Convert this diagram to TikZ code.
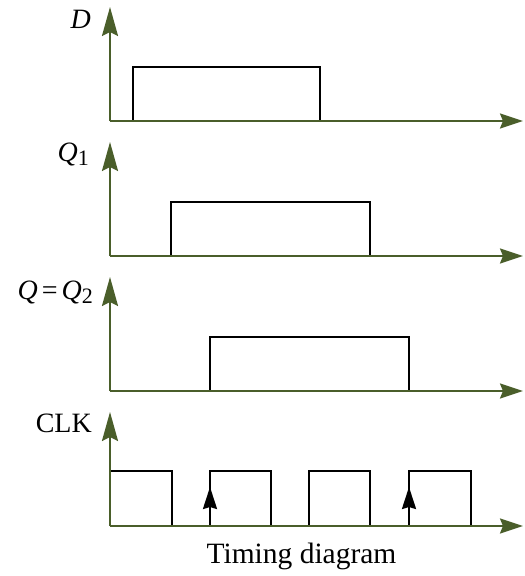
\documentclass[tikz,border=0pt]{standalone}
\usepackage{fontspec}
\setmainfont{Liberation Serif}
\usetikzlibrary{arrows.meta}
\definecolor{axisgreen}{RGB}{74,94,42}
\begin{document}
\begin{tikzpicture}[x=1pt,y=-1pt,
  axis/.style={draw=axisgreen,line width=2.2pt},
  harrow/.style={-{Stealth[length=23pt,width=15pt,inset=3pt]}},
  varrow/.style={-{Stealth[length=29pt,width=16pt,inset=4pt]}},
  signal/.style={draw=black,line width=2.2pt,line join=miter},
  edgearrow/.style={-{Stealth[length=22pt,width=14pt,inset=2pt]},draw=black,line width=2.2pt},
  lbl/.style={anchor=base east,inner sep=0pt,font=\fontsize{28}{30}\selectfont},
]
\useasboundingbox (0,0) rectangle (525,576);
\newcommand{\subtxt}[1]{\raisebox{-4pt}{\fontsize{22}{22}\selectfont #1}}
% ---------- D ----------
\coordinate (oD) at (110,121);
\coordinate (xD) at (523,121);
\coordinate (yD) at (110,7);
\draw[signal] (133,121) -- (133,67) -- (320,67) -- (320,121);
\draw[axis,harrow] (oD) -- (xD);
\draw[axis,varrow] (oD) -- (yD);
\node[lbl] (lD) at (91,28) {\textit{D}};
% ---------- Q1 ----------
\coordinate (oQ1) at (110,256);
\coordinate (xQ1) at (523,256);
\coordinate (yQ1) at (110,142);
\draw[signal] (171,256) -- (171,202) -- (370,202) -- (370,256);
\draw[axis,harrow] (oQ1) -- (xQ1);
\draw[axis,varrow] (oQ1) -- (yQ1);
\node[lbl] (lQ1) at (89,161) {\textit{Q}\subtxt{1}};
% ---------- Q = Q2 ----------
\coordinate (oQ2) at (110,391);
\coordinate (xQ2) at (523,391);
\coordinate (yQ2) at (110,277);
\draw[signal] (210,391) -- (210,337) -- (409,337) -- (409,391);
\draw[axis,harrow] (oQ2) -- (xQ2);
\draw[axis,varrow] (oQ2) -- (yQ2);
\node[lbl] (lQ2) at (93,299) {\textit{Q}\hspace{4pt}=\hspace{4pt}\textit{Q}\subtxt{2}};
% ---------- CLK ----------
\coordinate (oC) at (110,526);
\coordinate (xC) at (523,526);
\coordinate (yC) at (110,412);
\draw[signal] (110,471) -- (172,471) -- (172,526);
\draw[signal] (210,526) -- (210,471) -- (271,471) -- (271,526);
\draw[signal] (309,526) -- (309,471) -- (370,471) -- (370,526);
\draw[signal] (409,526) -- (409,471) -- (471,471) -- (471,526);
\coordinate (e1s) at (210,526);
\coordinate (e1t) at (210,487);
\coordinate (e2s) at (409,526);
\coordinate (e2t) at (409,487);
\draw[edgearrow] (e1s) -- (e1t);
\draw[edgearrow] (e2s) -- (e2t);
\draw[axis,harrow] (oC) -- (xC);
\draw[axis,varrow] (oC) -- (yC);
\node[lbl] (lC) at (92,432) {CLK};
% ---------- caption ----------
\node[anchor=base,inner sep=0pt,font=\fontsize{29.5}{32}\selectfont] (cap) at (301.5,563) {Timing diagram};
\end{tikzpicture}
\end{document}
